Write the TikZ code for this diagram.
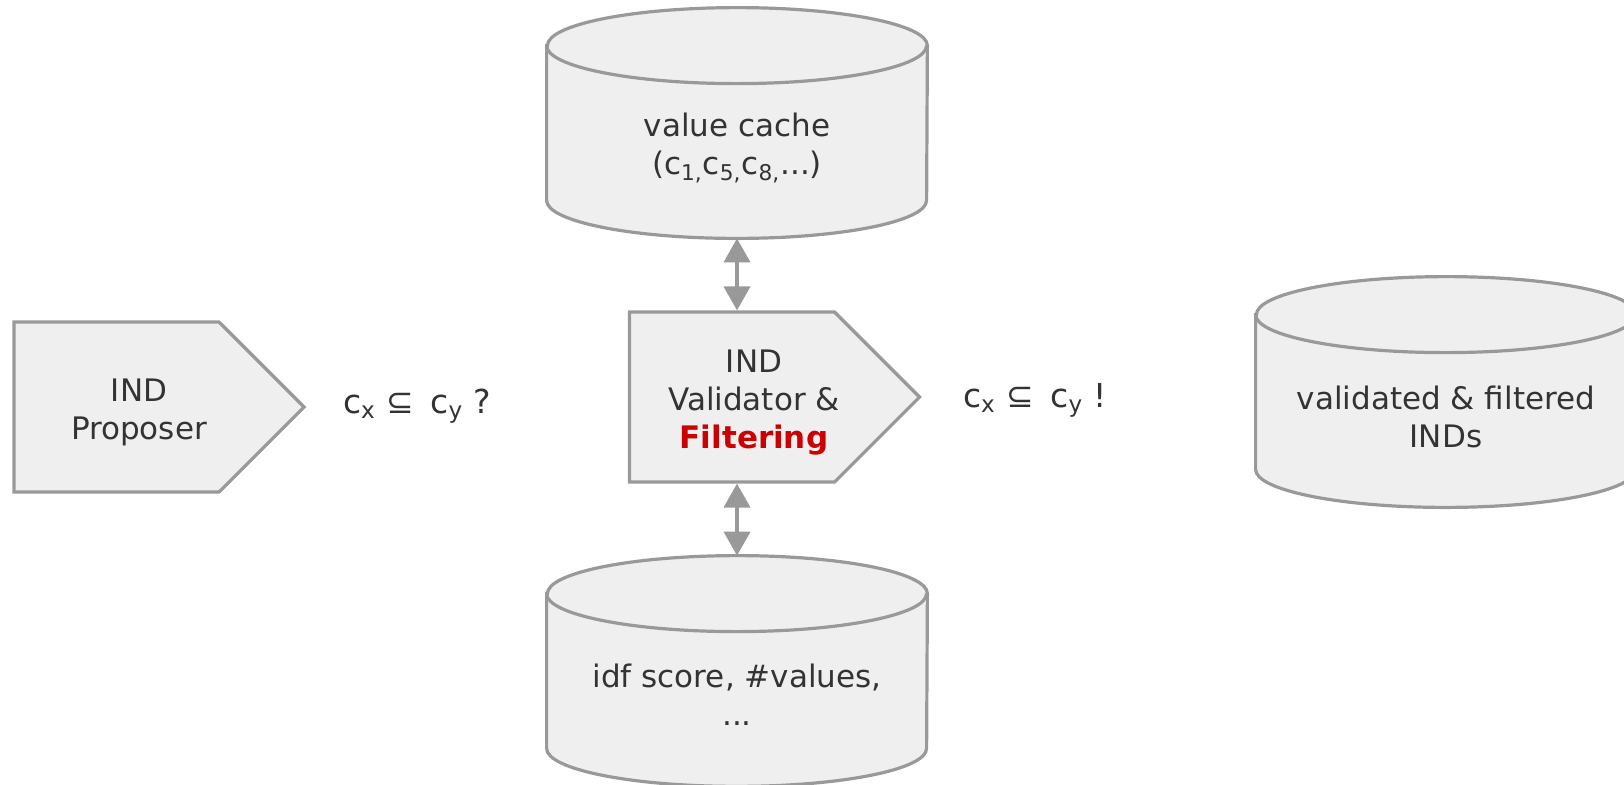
\documentclass[tikz,border=0pt]{standalone}
\usepackage{fontspec}
\setmainfont{DejaVu Sans}
\usetikzlibrary{positioning,
        shapes,
        arrows.meta}
\usepackage{xcolor}
\definecolor{boxfill}{HTML}{EFEFEF}
\definecolor{boxline}{HTML}{999999}
\definecolor{txtgray}{HTML}{333333}
\definecolor{filtred}{HTML}{CC0000}

\begin{document}
\begin{tikzpicture}[x=0.5pt,y=-0.5pt,
        every node/.style={font=\fontsize{15.5}{19}\selectfont,text=txtgray},
        proc/.style={signal,signal to=east,signal pointer angle=90,draw=boxline,fill=boxfill,line width=1.6pt,minimum width=145pt,minimum height=85pt},
        drum/.style={rectangle,inner sep=0pt,minimum width=190pt,minimum height=115pt},
        drumline/.style={draw=boxline,fill=boxfill,line width=1.6pt},
        txt/.style={align=center},
        link/.style={{Triangle[width=13pt,length=12pt]}-{Triangle[width=13pt,length=12pt]},draw=boxline,line width=2pt}]
        \useasboundingbox (0,0) rectangle (1624,784);

        \node [proc] (proposer) at (116.5,407) {};
        \node [proc] (validator) at (732,397) {};

        \node [drum] (cache) at (737,123) {};
        \node [drum] (scores) at (737,671) {};
        \node [drum] (result) at (1446,392) {};

        % database drums
        \foreach \d in {cache,scores,result} {
            \draw [drumline] ([yshift=-19pt]\d.north west) -- ([yshift=19pt]\d.south west)
                arc [start angle=180, end angle=360, x radius=95pt, y radius=19pt]
                -- ([yshift=-19pt]\d.north east)
                arc [start angle=0, end angle=180, x radius=95pt, y radius=19pt] -- cycle;
            \draw [drumline, fill=none] ([yshift=-19pt]\d.north west)
                arc [start angle=180, end angle=360, x radius=95pt, y radius=19pt];
        }

        \node [txt] (proposertext) at (139,412) {IND\\Proposer};
        \node [txt] (validatortext) at (754,403) {IND\\Validator \&\\\textbf{\color{filtred}Filtering}};
        \node [txt] (cachetext) at (737,148) {value cache\\(c\textsubscript{1,}c\textsubscript{5,}c\textsubscript{8,}...)};
        \node [txt] (scorestext) at (737,695) {idf score, \#values,\\...};
        \node [txt] (resulttext) at (1446,417) {validated \& filtered\\INDs};

        \node [anchor=base west,font=\fontsize{16.5}{20}\selectfont] (ask) at (336,413) {c\textsubscript{x} ⊆\hspace{3pt} c\textsubscript{y} ?};
        \node [anchor=base west,font=\fontsize{16.5}{20}\selectfont] (tell) at (956,407) {c\textsubscript{x} ⊆\hspace{3pt} c\textsubscript{y} !};

        \draw [link] (cache.south) -- (cache.south |- validator.north);
        \draw [link] (validator.south -| scores.north) -- (scores.north);
\end{tikzpicture}
\end{document}
